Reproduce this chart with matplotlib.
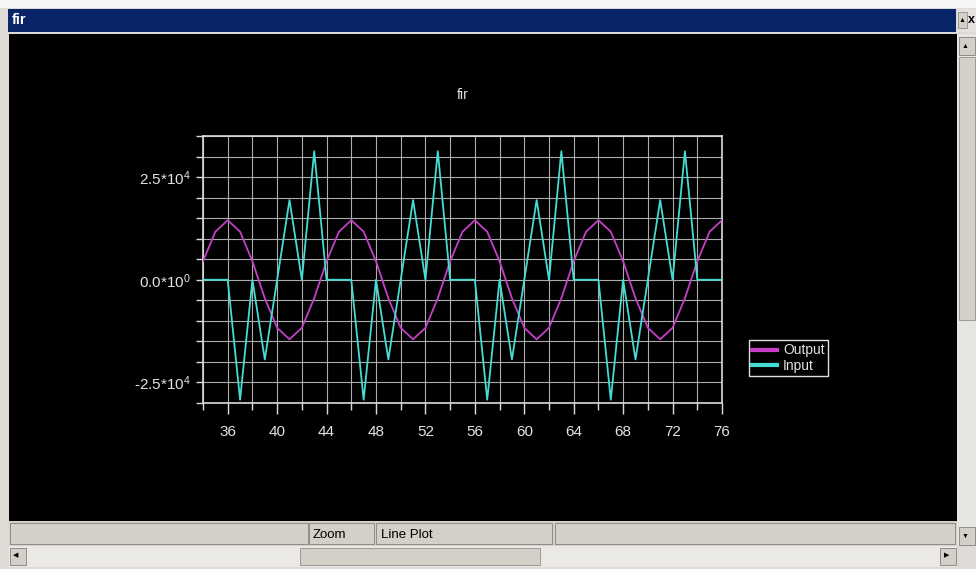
import matplotlib
matplotlib.use('Agg')
import matplotlib.pyplot as plt
from matplotlib.patches import Rectangle
from matplotlib.ticker import MultipleLocator

W, H = 976, 569

# data (one sample per integer step)
x_vals = list(range(34, 77))
output_vals = [
	4500, 11700, 14500, 11700, 4500, -4500, -11700, -14500, -11700, -4500,
	4500, 11700, 14500, 11700, 4500, -4500, -11700, -14500, -11700, -4500,
	4500, 11700, 14500, 11700, 4500, -4500, -11700, -14500, -11700, -4500,
	4500, 11700, 14500, 11700, 4500, -4500, -11700, -14500, -11700, -4500,
	4500, 11700, 14500,
]
input_vals = [
	0, 0, 0, -29200, 0, -19400, 0, 19400, 0, 31300,
	0, 0, 0, -29200, 0, -19400, 0, 19400, 0, 31300,
	0, 0, 0, -29200, 0, -19400, 0, 19400, 0, 31300,
	0, 0, 0, -29200, 0, -19400, 0, 19400, 0, 31300,
	0, 0, 0,
]
y_ticks = [-25000, 0, 25000]
y_tick_labels = ['-2.5*10$^{4}$', '0.0*10$^{0}$', '2.5*10$^{4}$']
x_ticks = list(range(36, 77, 4))

color_out = '#c63fc6'
color_in = '#44dcd4'
txt = '#e2e2e2'

plt.rcParams['font.family'] = ['Liberation Sans', 'DejaVu Sans']
plt.rcParams['mathtext.default'] = 'regular'

fig = plt.figure(figsize=(W / 100, H / 100), dpi=100, facecolor='#dedbd6')

def box(x, y, w, h, fc, ec='none', lw=0):
	# window chrome, given in screen pixels from the top left
	fig.add_artist(Rectangle((x / W, 1 - (y + h) / H), w / W, h / H,
		transform=fig.transFigure, facecolor=fc, edgecolor=ec, linewidth=lw))

def label(x, y, s, **kw):
	fig.text(x / W, 1 - y / H, s, va='center', **kw)

# window frame
box(0, 0, W, 8, '#f6f6f6')
box(8, 9, 948, 23, '#0a246a')
label(12, 20, 'fir', color='white', fontsize=10.5, fontweight='bold')
box(957, 9, 19, 23, '#e4e2de')
box(958, 12, 9, 16, '#d4d0c8', '#909090', 0.6)
label(959, 20, '▲', color='black', fontsize=5)
label(968, 20, 'x', color='black', fontsize=9, fontweight='bold')
box(9, 34, 948, 487, '#000000')

# vertical scrollbar
box(957, 34, 19, 512, '#e8e6e2')
box(959, 37, 16, 18, '#d4d0c8', '#808080', 0.6)
label(962, 46, '▲', color='black', fontsize=5)
box(959, 57, 16, 263, '#d4d0c8', '#909090', 0.6)
box(959, 527, 16, 18, '#d4d0c8', '#808080', 0.6)
label(962, 536, '▼', color='black', fontsize=5)

# status bar
box(9, 521, 948, 25, '#d4d0c8')
for (px, pw) in [(10, 298), (309, 65), (376, 176), (555, 400)]:
	box(px, 523, pw, 21, '#d4d0c8', '#8c8c8c', 0.7)
label(313, 535, 'Zoom', color='black', fontsize=9.5)
label(381, 535, 'Line Plot', color='black', fontsize=9.5)

# horizontal scrollbar
box(9, 546, 948, 21, '#ebe9e5')
box(10, 548, 16, 17, '#d4d0c8', '#808080', 0.6)
label(13, 556, '◀', color='black', fontsize=5)
box(300, 548, 240, 17, '#d4d0c8', '#909090', 0.6)
box(940, 548, 16, 17, '#d4d0c8', '#808080', 0.6)
label(944, 556, '▶', color='black', fontsize=5)

# plot
ax = fig.add_axes([203 / W, 1 - 403 / H, (722 - 203) / W, (403 - 136) / H])
ax.set_zorder(10)
ax.set_facecolor('black')
ax.plot(x_vals, output_vals, color=color_out, lw=1.3, label='Output', zorder=3)
ax.plot(x_vals, input_vals, color=color_in, lw=1.3, label='Input', zorder=4)

ax.set_xlim(34, 76)
ax.set_ylim(-30000, 35000)
ax.set_xticks(x_ticks)
ax.xaxis.set_minor_locator(MultipleLocator(2))
ax.set_yticks(y_ticks)
ax.set_yticklabels(y_tick_labels)
ax.yaxis.set_minor_locator(MultipleLocator(5000))
ax.grid(which='both', color='#acacac', lw=0.8)
ax.set_axisbelow(True)
for s in ax.spines.values():
	s.set_color('#dcdcdc')
	s.set_linewidth(1.2)
ax.tick_params(axis='x', which='major', length=8, width=1, color='#dcdcdc',
	labelcolor=txt, labelsize=11, pad=8)
ax.tick_params(axis='x', which='minor', length=5, width=1, color='#dcdcdc')
ax.tick_params(axis='y', which='both', length=5, width=1, color='#dcdcdc',
	labelcolor=txt, labelsize=11, pad=4)
ax.set_title('fir', color=txt, fontsize=10, pad=27)

ax.legend(loc='upper left', bbox_to_anchor=(749 / W, 1 - 340 / H),
	bbox_transform=fig.transFigure, borderaxespad=0, fancybox=False,
	facecolor='black', edgecolor='#e0e0e0', labelcolor=txt, fontsize=10,
	handlelength=1.8, handletextpad=0.4, labelspacing=0.1, borderpad=0.25,
	framealpha=1)
for h in ax.get_legend().get_lines():
	h.set_linewidth(3)

fig.savefig('out.png', dpi=100, facecolor=fig.get_facecolor())
